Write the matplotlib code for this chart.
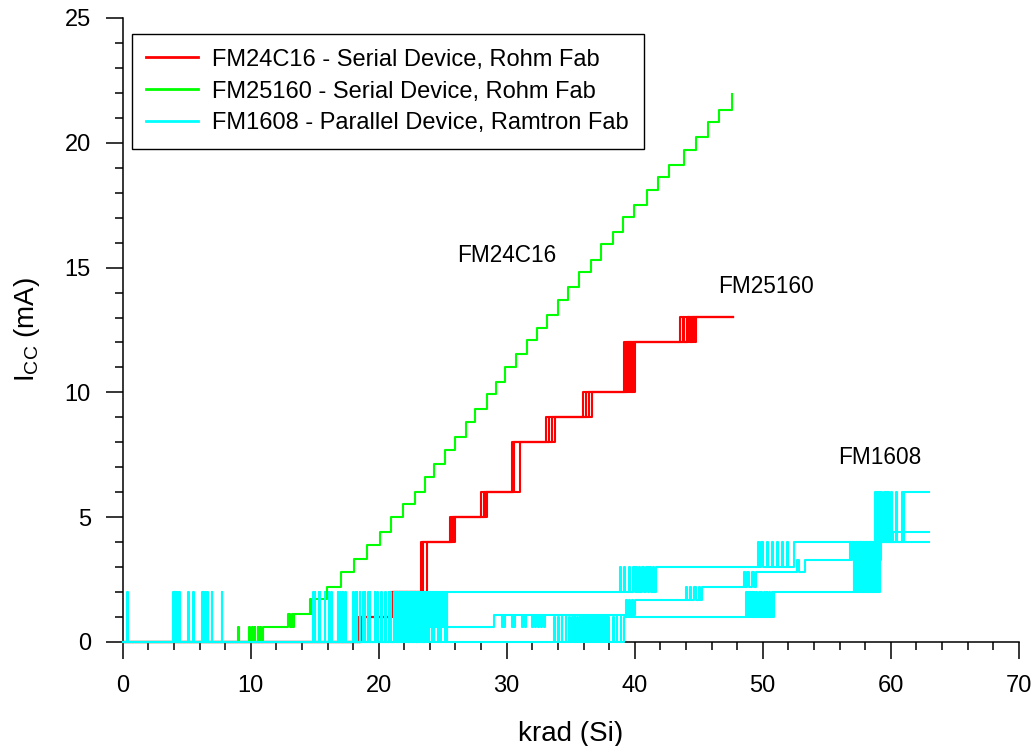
import matplotlib
matplotlib.use("Agg")
import matplotlib.pyplot as plt
from matplotlib.ticker import MultipleLocator

plt.rcParams['font.family'] = ['Liberation Sans', 'DejaVu Sans']
plt.rcParams['mathtext.fontset'] = 'custom'
plt.rcParams['mathtext.rm'] = 'Liberation Sans'
plt.rcParams['mathtext.it'] = 'Liberation Sans'

# ---------------- data (step traces: x = breakpoint, y = level after it) ----------------
legend_labels = ["FM24C16 - Serial Device, Rohm Fab",
                 "FM25160 - Serial Device, Rohm Fab",
                 "FM1608 - Parallel Device, Ramtron Fab"]
annotations = ["FM24C16", "FM25160", "FM1608"]
annot_x = [26.1, 46.5, 55.9]
annot_y = [15.48, 14.23, 7.41]

x_ticks = [0, 10, 20, 30, 40, 50, 60, 70]
y_ticks = [0, 5, 10, 15, 20, 25]

# red devices
red1_x = [0, 18.0, 18.05, 18.25, 18.3, 18.5, 20.9, 23.3, 25.55, 27.97, 30.41, 33.1, 35.95, 39.17, 43.55, 47.65]
red1_y = [0, 1.0, 0, 1.0, 0, 1.0, 2.02, 4.02, 5.02, 6.0, 8.02, 9.03, 10.03, 12.03, 13.03, 13.03]
red2_x = [0, 18.4, 18.45, 18.7, 21.0, 23.5, 25.75, 28.2, 30.6, 33.3, 36.2, 39.5, 39.6, 39.7, 39.8, 39.9,
          43.75, 43.85, 44.05, 47.65]
red2_y = [0, 1.0, 0, 1.0, 2.02, 4.02, 5.02, 6.0, 8.02, 9.03, 10.03, 12.03, 10.03, 12.03, 10.03, 12.03,
          13.03, 12.03, 13.03, 13.03]
red3_x = [0, 18.65, 21.1, 23.8, 26.0, 28.5, 31.05, 33.8, 36.7, 40.0, 44.6, 44.7, 44.78, 47.65]
red3_y = [0, 1.0, 2.02, 4.02, 5.02, 6.0, 8.02, 9.03, 10.03, 12.03, 13.03, 12.03, 13.03, 13.03]
red4_x = [0, 18.55, 21.05, 23.4, 25.8, 28.35, 30.5, 33.5, 36.4, 39.35, 44.2, 44.3, 44.5, 47.65]
red4_y = [0, 1.0, 2.02, 4.02, 5.02, 6.0, 8.02, 9.03, 10.03, 12.03, 13.03, 12.03, 13.03, 13.03]

# green device
green_x = [0, 9.0, 9.05, 9.87, 9.92, 10.1, 10.15, 10.3, 10.35, 10.55, 10.6, 10.75, 10.8, 10.95,
           12.95, 13.05, 13.2, 13.3, 13.4, 14.6, 14.7, 14.85, 15.95, 17.05, 18.1, 19.1, 20.1,
           21.0, 21.9, 22.8, 23.65, 24.35, 25.2, 26.0, 26.8, 27.55, 28.45, 29.2, 29.9, 30.75,
           31.6, 32.4, 33.15, 34.0, 34.8, 35.65, 36.6, 37.4, 38.27, 39.1, 39.96, 40.93, 41.79,
           42.7, 43.88, 44.79, 45.71, 46.62, 47.61]
green_y = [0, 0.61, 0, 0.61, 0, 0.61, 0, 0.61, 0, 0.61, 0, 0.61, 0, 0.61,
           1.11, 0.61, 1.11, 0.61, 1.11, 1.71, 1.11, 1.71, 2.21, 2.82, 3.31, 3.89, 4.39,
           4.99, 5.52, 6.0, 6.61, 7.12, 7.69, 8.23, 8.8, 9.32, 9.92, 10.43, 11.0, 11.52,
           12.09, 12.6, 13.11, 13.7, 14.21, 14.81, 15.3, 15.93, 16.41, 17.04, 17.51, 18.1, 18.62,
           19.11, 19.71, 20.22, 20.82, 21.31, 21.94]

# cyan devices
cyan1_x = [0, 0.34, 0.38, 4.0, 4.3, 5.5, 5.54, 6.3, 6.34, 7.73, 7.77, 15.0, 15.04, 16.3, 16.34,
           17.2, 17.24, 18.3, 18.34, 18.9, 18.94, 20.2, 20.24,
           21.2, 21.5, 21.55, 21.8, 21.85, 22.0, 22.1, 22.3, 22.35, 22.6, 22.65, 22.9, 23.0,
           23.2, 23.25, 23.5, 23.55, 23.9, 23.95, 24.3, 24.35, 24.8, 24.85, 25.2, 25.25,
           38.85, 38.9, 39.2, 39.25, 39.55, 39.6, 39.9, 40.0, 40.1, 40.2, 40.35, 40.45, 40.6,
           40.7, 40.9, 41.0, 41.15, 41.25, 41.4, 41.5, 41.65,
           49.6, 49.7, 49.9, 50.0, 50.3, 50.4, 50.7, 50.8, 51.1, 51.2, 51.5, 51.6, 51.9, 52.0, 52.45,
           58.8, 58.9, 59.0, 59.1, 59.2, 59.35, 59.5, 59.6, 59.7, 59.85, 60.0, 60.1, 60.45, 60.5,
           60.85, 60.95, 61.05, 63.0]
cyan1_y = [0, 2.02, 0, 2.02, 0, 2.02, 0, 2.02, 0, 2.02, 0, 2.02, 0, 2.02, 0,
           2.02, 0, 2.02, 0, 2.02, 0, 2.02, 0,
           2.02, 0, 2.02, 0, 2.02, 0, 2.02, 0, 2.02, 0, 2.02, 0, 2.02,
           0, 2.02, 0, 2.02, 0, 2.02, 0, 2.02, 0, 2.02, 0, 2.02,
           2.99, 2.02, 2.99, 2.02, 2.99, 2.02, 2.99, 2.02, 2.99, 2.02, 2.99, 2.02, 2.99,
           2.02, 2.99, 2.02, 2.99, 2.02, 2.99, 2.02, 2.99,
           4.02, 2.99, 4.02, 2.99, 4.02, 2.99, 4.02, 2.99, 4.02, 2.99, 4.02, 2.99, 4.02, 2.99, 4.02,
           6.0, 4.02, 6.0, 4.02, 6.0, 4.02, 6.0, 4.02, 6.0, 4.02, 6.0, 4.02, 6.0, 4.02,
           6.0, 4.02, 6.0, 6.0]

cyan2_x = [0, 3.9, 4.05, 4.4, 4.44, 5.11, 5.15, 6.2, 6.24, 6.6, 6.64, 14.9, 14.94, 15.3, 15.34,
           16.8, 16.84, 18.0, 18.04, 18.5, 18.54, 19.7, 19.74, 20.5, 20.54,
           21.3, 21.35, 21.6, 21.65, 21.9, 21.95, 22.15, 22.2, 22.45, 22.5, 22.75, 22.8,
           23.05, 23.1, 23.35, 23.4, 23.65, 23.7, 24.0, 24.05, 24.5, 24.55, 25.0, 25.05,
           29.0, 29.6, 29.68, 29.8, 29.88, 30.4, 30.48, 30.6, 30.68, 31.2, 31.28, 31.4, 31.48,
           32.0, 32.08, 32.2, 32.28, 32.45, 32.53, 32.7, 32.78, 32.9, 32.98,
           39.3, 39.4, 39.55, 39.65, 39.8, 39.9, 40.05,
           44.0, 44.1, 44.3, 44.4, 44.65, 44.75, 45.0, 45.1, 45.25,
           48.5, 48.6, 48.8, 48.9, 49.2, 49.3, 49.45,
           52.7, 52.85, 53.3,
           56.8, 56.9, 57.0, 57.1, 57.3, 57.4, 57.55, 57.65, 57.8, 57.9, 58.05, 58.15, 58.3,
           58.4, 58.6, 58.7, 58.9, 59.0, 59.25, 60.2, 63.0]
cyan2_y = [0, 2.02, 0, 2.02, 0, 2.02, 0, 2.02, 0, 2.02, 0, 2.02, 0, 2.02, 0,
           2.02, 0, 2.02, 0, 2.02, 0, 2.02, 0, 2.02, 0,
           2.02, 0, 2.02, 0, 2.02, 0, 2.02, 0, 2.02, 0, 2.02, 0,
           2.02, 0, 2.02, 0, 2.02, 0.61, 2.02, 0.61, 2.02, 0.61, 2.02, 0.61,
           1.08, 0.61, 1.08, 0.61, 1.08, 0.61, 1.08, 0.61, 1.08, 0.61, 1.08, 0.61, 1.08,
           0.61, 1.08, 0.61, 1.08, 0.61, 1.08, 0.61, 1.08, 0.61, 1.08,
           1.68, 1.08, 1.68, 1.08, 1.68, 1.08, 1.68,
           2.19, 1.68, 2.19, 1.68, 2.19, 1.68, 2.19, 1.68, 2.19,
           2.79, 2.19, 2.79, 2.19, 2.79, 2.19, 2.79,
           3.29, 2.79, 3.29,
           4.02, 3.29, 4.02, 3.29, 4.02, 3.29, 4.02, 3.29, 4.02, 3.29, 4.02, 3.29, 4.02,
           3.29, 4.02, 3.29, 4.02, 3.29, 4.02, 4.42, 4.42]

cyan3_x = [0, 4.15, 4.19, 6.45, 6.49, 6.94, 6.98, 15.4, 15.44, 15.8, 15.84, 16.1, 16.14,
           17.0, 17.04, 17.4, 17.44, 18.2, 18.24, 18.8, 18.84, 19.2, 19.24, 19.3, 19.34,
           19.9, 19.94, 20.8, 20.84, 20.9, 20.94,
           21.4, 21.45, 21.7, 21.75, 22.05, 22.1, 22.25, 22.3, 22.55, 22.6, 22.85, 22.9,
           23.15, 23.2, 23.45, 23.5, 23.8, 23.85, 24.2, 24.25, 24.65, 24.7, 25.3, 25.35,
           33.7, 33.75, 34.0, 34.05, 34.3, 34.35, 34.6, 34.65, 34.9, 34.95, 35.1, 35.15,
           35.3, 35.35, 35.5, 35.55, 35.7, 35.75, 35.85, 35.9, 36.0, 36.05, 36.15, 36.2,
           36.3, 36.35, 36.45, 36.5, 36.6, 36.65, 36.75, 36.8, 36.9, 36.95, 37.05, 37.1,
           37.2, 37.25, 37.35, 37.4, 37.5, 37.55, 37.65, 37.7, 37.8, 37.85, 37.95, 38.0,
           38.3, 38.35, 38.6, 38.65, 38.9, 38.95, 39.2,
           48.7, 48.75, 48.85, 48.9, 49.0, 49.05, 49.15, 49.2, 49.3, 49.35, 49.5, 49.55,
           49.7, 49.75, 49.9, 49.95, 50.1, 50.15, 50.3, 50.35, 50.5, 50.55, 50.75, 50.8, 50.9,
           57.1, 57.15, 57.25, 57.3, 57.4, 57.45, 57.6, 57.65, 57.8, 57.85, 58.0, 58.05,
           58.2, 58.25, 58.4, 58.45, 58.6, 58.65, 58.8, 58.85, 59.0, 59.05, 59.2, 63.0]
cyan3_y = [0, 2.02, 0, 2.02, 0, 2.02, 0, 2.02, 0, 2.02, 0, 2.02, 0,
           2.02, 0, 2.02, 0, 2.02, 0, 2.02, 0, 2.02, 0, 2.02, 0,
           2.02, 0, 2.02, 0, 2.02, 0,
           2.02, 0, 2.02, 0, 2.02, 0, 2.02, 0, 2.02, 0, 2.02, 0,
           2.02, 0, 2.02, 0, 2.02, 0, 2.02, 0, 2.02, 0, 2.02, 0,
           1.01, 0, 1.01, 0, 1.01, 0, 1.01, 0, 1.01, 0, 1.01, 0,
           1.01, 0, 1.01, 0, 1.01, 0, 1.01, 0, 1.01, 0, 1.01, 0,
           1.01, 0, 1.01, 0, 1.01, 0, 1.01, 0, 1.01, 0, 1.01, 0,
           1.01, 0, 1.01, 0, 1.01, 0, 1.01, 0, 1.01, 0, 1.01, 0,
           1.01, 0, 1.01, 0, 1.01, 0, 1.01,
           2.02, 1.01, 2.02, 1.01, 2.02, 1.01, 2.02, 1.01, 2.02, 1.01, 2.02, 1.01,
           2.02, 1.01, 2.02, 1.01, 2.02, 1.01, 2.02, 1.01, 2.02, 1.01, 2.02, 1.01, 2.02,
           4.02, 2.02, 4.02, 2.02, 4.02, 2.02, 4.02, 2.02, 4.02, 2.02, 4.02, 2.02,
           4.02, 2.02, 4.02, 2.02, 4.02, 2.02, 4.02, 2.02, 4.02, 2.02, 4.02, 4.02]

RED, GREEN, CYAN = '#FF0000', '#00FF00', '#00FFFF'
LW = 1.5

# ---------------- figure ----------------
fig = plt.figure(figsize=(10.33, 7.46), dpi=100)
ax = fig.add_axes([122.7 / 1033, 1 - 642 / 746, 896 / 1033, 624 / 746])

kw = dict(drawstyle='steps-post', lw=LW, clip_on=False, zorder=3)
for i, (xs, ys) in enumerate([(red1_x, red1_y), (red2_x, red2_y), (red3_x, red3_y), (red4_x, red4_y)]):
    ax.plot(xs, ys, color=RED, label=legend_labels[0] if i == 0 else None, **kw)
ax.plot(green_x, green_y, color=GREEN, label=legend_labels[1], **kw)
for i, (xs, ys) in enumerate([(cyan1_x, cyan1_y), (cyan2_x, cyan2_y), (cyan3_x, cyan3_y)]):
    ax.plot(xs, ys, color=CYAN, label=legend_labels[2] if i == 0 else None, **kw)

for t, x, y in zip(annotations, annot_x, annot_y):
    ax.text(x, y, t, fontsize=16.3, ha='left', va='center')

ax.set_xlim(0, 70)
ax.set_ylim(0, 25)
ax.set_xticks(x_ticks)
ax.set_yticks(y_ticks)
ax.xaxis.set_minor_locator(MultipleLocator(2))
ax.yaxis.set_minor_locator(MultipleLocator(1))
ax.tick_params(which='major', direction='out', length=12, width=1.1, labelsize=17)
ax.tick_params(axis='x', which='major', pad=12)
ax.tick_params(axis='y', which='major', pad=11)
ax.tick_params(which='minor', direction='out', length=5.5, width=1.1)
for s in ['top', 'right']:
    ax.spines[s].set_visible(False)
for s in ['left', 'bottom']:
    ax.spines[s].set_linewidth(1.1)

ax.set_xlabel('krad (Si)', fontsize=20, labelpad=17)
ax.set_ylabel(r'I$_{\mathrm{CC}}$ (mA)', fontsize=20, labelpad=16)

leg = ax.legend(loc='upper left', bbox_to_anchor=(9 / 896, 1 - 16 / 624), borderaxespad=0,
                fontsize=17, fancybox=False, framealpha=1, edgecolor='black',
                handlelength=2.2, handletextpad=0.6, labelspacing=0.42, borderpad=0.62)
leg.get_frame().set_linewidth(1.0)
for h in leg.get_lines():
    h.set_linewidth(2)

fig.savefig('out.png', dpi=100)
